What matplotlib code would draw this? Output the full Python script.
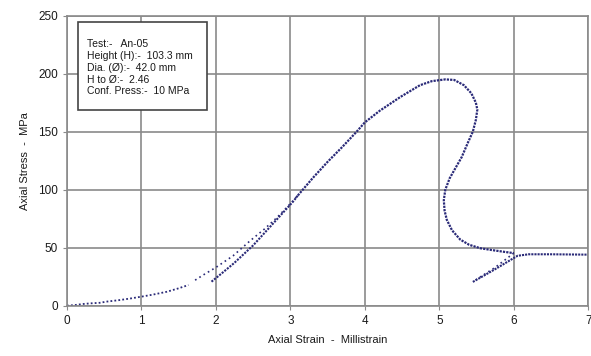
import matplotlib.pyplot as plt
from matplotlib.patches import Rectangle

plt.rcParams['font.family'] = ['Liberation Sans', 'DejaVu Sans']

# initial loading
strain_a = [0, 0.11, 0.22, 0.31, 0.44, 0.53, 0.7, 0.85, 1.0, 1.15, 1.34, 1.5, 1.63]
stress_a = [0, 0.6, 1.5, 2.0, 2.5, 3.5, 4.8, 6.2, 7.8, 9.5, 12, 15, 17.8]

# sparse upper branch
strain_b = [1.72, 1.83, 2.0, 2.23, 2.46, 2.65, 2.82, 3.0, 3.1]
stress_b = [22, 26.5, 33, 43, 56, 66, 76, 88, 95]

# unload / reload branch
strain_c = [1.94, 2.08, 2.24, 2.5, 2.77, 3.04, 3.1]
stress_c = [20.7, 28, 36.5, 52, 71, 90, 95]

# main curve, peak and post-peak
strain_d = [3.1, 3.3, 3.5, 3.7, 3.89, 4.0, 4.2, 4.48, 4.74, 4.9, 5.08, 5.2, 5.33,
            5.43, 5.49, 5.51, 5.49, 5.45, 5.38, 5.3, 5.22, 5.14, 5.08, 5.06, 5.07,
            5.10, 5.17, 5.28, 5.4, 5.55, 5.7, 5.86, 6.0]
stress_d = [95, 110, 124, 137, 150, 158, 168, 180, 190, 193.5, 195, 194.5, 190,
            183, 175, 169, 160, 150, 140, 128, 119, 110, 100, 91, 82,
            74, 65, 57, 52.5, 49.5, 48, 46.5, 45.3]

# small unloading loop near the end
strain_e = [6.0, 5.75, 5.47]
stress_e = [45.3, 33, 21.5]
strain_f = [5.45, 5.75, 6.05, 6.2, 6.5, 6.98]
stress_f = [20.5, 31.5, 43, 44.3, 44.3, 44.0]

info = ("Test:-   An-05\nHeight (H):-  103.3 mm\nDia. (\u00d8):-  42.0 mm\n"
        "H to \u00d8:-  2.46\nConf. Press:-  10 MPa")

col = '#2a2a78'
fig = plt.figure(figsize=(5.91, 3.56), dpi=100)
ax = fig.add_axes([0.1134, 0.1413, 0.882, 0.815])

ax.plot(strain_a, stress_a, color=col, lw=1.3, ls=(0, (1, 1.2)))
ax.plot(strain_b, stress_b, color=col, lw=1.2, ls=(0, (1, 2)))
ax.plot(strain_c, stress_c, color=col, lw=1.5, ls=(0, (1, 0.6)))
ax.plot(strain_d, stress_d, color=col, lw=1.6, ls=(0, (1, 0.5)))
ax.plot(strain_e, stress_e, color=col, lw=1.2, ls=(0, (1, 2)))
ax.plot(strain_f, stress_f, color=col, lw=1.5, ls=(0, (1, 0.5)))

ax.set_xlim(0, 7)
ax.set_ylim(0, 250)
ax.set_xticks(range(0, 8))
ax.set_yticks(range(0, 251, 50))
ax.grid(True, color='#8a8a8a', lw=1.2)
for s in ax.spines.values():
    s.set_color('#8a8a8a')
    s.set_linewidth(1.2)
ax.tick_params(colors='#8a8a8a', labelcolor='#1a1a1a', labelsize=8.5, length=3)

ax.set_xlabel('Axial Strain  -  Millistrain', fontsize=8, color='#1a1a1a', labelpad=6)
ax.set_ylabel('Axial Stress  -  MPa', fontsize=8, color='#1a1a1a', labelpad=6)

# info box
ax.add_patch(Rectangle((0.152, 168.7), 1.725, 76.1, fc='white', ec='#444444', lw=1.2, zorder=5))
ax.text(0.27, 229.5, info, fontsize=7.5, va='top', ha='left',
        linespacing=1.22, color='#1a1a1a', zorder=6)

fig.savefig('out.png', dpi=100)
